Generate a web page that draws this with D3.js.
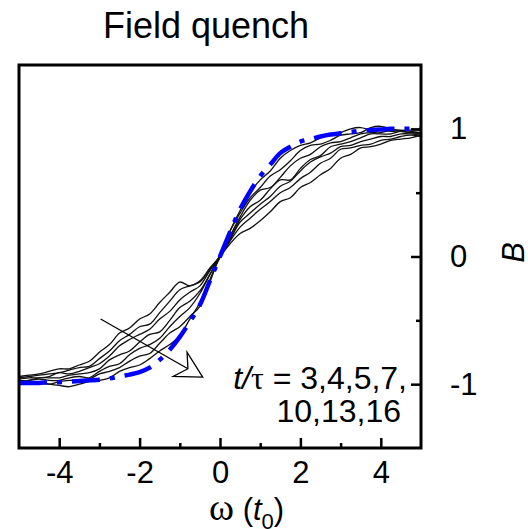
<!DOCTYPE html>
<html>
<head>
<meta charset="utf-8">
<script src="https://cdn.jsdelivr.net/npm/d3@7"></script>
<style>
  html, body { margin: 0; padding: 0; background: #fff; }
  svg { display: block; }
  text { font-family: "Liberation Sans", Arial, Helvetica, sans-serif; fill: #000; }
</style>
</head>
<body>
<svg id="chart" width="528" height="529"></svg>
<script>
// Frequency grid (units of t0)
const omega = [-5, -4.75, -4.5, -4.25, -4, -3.75, -3.5, -3.25, -3, -2.75, -2.5, -2.25, -2, -1.75, -1.5, -1.25, -1, -0.75, -0.5, -0.25,
  0, 0.25, 0.5, 0.75, 1, 1.25, 1.5, 1.75, 2, 2.25, 2.5, 2.75, 3, 3.25, 3.5, 3.75, 4, 4.25, 4.5, 4.75, 5];

// Measured B(ω) after the field quench, one trace per t/τ
const tauLabels = ["16", "13", "10", "7", "5", "4", "3"];
const bT16 = [-1.0, -1.0, -0.99, -1.0, -1.01, -1.02, -1.0, -0.98, -0.97, -0.95, -0.9, -0.87, -0.85, -0.8, -0.74, -0.69, -0.62, -0.49, -0.36, -0.18,
  0.0, 0.2, 0.36, 0.5, 0.6, 0.67, 0.77, 0.83, 0.87, 0.89, 0.93, 0.95, 0.97, 1.0, 1.01, 0.99, 0.99, 0.98, 0.985, 0.99, 0.99];
const bT13 = [-0.99, -0.98, -0.99, -1.0, -0.98, -0.97, -0.97, -0.96, -0.92, -0.9, -0.87, -0.82, -0.78, -0.76, -0.68, -0.6, -0.55, -0.47, -0.39, -0.2,
  0.02, 0.2, 0.34, 0.46, 0.54, 0.63, 0.68, 0.75, 0.83, 0.87, 0.88, 0.91, 0.95, 0.96, 0.97, 1.01, 1.02, 1.0, 0.98, 0.97, 0.97];
const bT10 = [-0.98, -0.97, -0.96, -0.97, -0.97, -0.95, -0.94, -0.95, -0.9, -0.86, -0.84, -0.77, -0.72, -0.69, -0.64, -0.55, -0.47, -0.4, -0.29, -0.14,
  0.01, 0.16, 0.31, 0.44, 0.52, 0.54, 0.62, 0.71, 0.77, 0.8, 0.86, 0.89, 0.9, 0.93, 0.96, 0.97, 0.97, 0.99, 0.99, 0.98, 0.97];
const bT7 = [-0.97, -0.97, -0.95, -0.95, -0.95, -0.93, -0.92, -0.91, -0.88, -0.81, -0.77, -0.74, -0.67, -0.61, -0.59, -0.5, -0.4, -0.35, -0.27, -0.14,
  -0.01, 0.14, 0.29, 0.39, 0.44, 0.53, 0.6, 0.6, 0.69, 0.76, 0.79, 0.86, 0.88, 0.9, 0.93, 0.96, 0.96, 0.96, 0.98, 0.97, 0.96];
const bT5 = [-0.96, -0.95, -0.95, -0.94, -0.91, -0.92, -0.9, -0.87, -0.84, -0.78, -0.7, -0.65, -0.61, -0.57, -0.49, -0.43, -0.34, -0.28, -0.23, -0.11,
  0.0, 0.13, 0.27, 0.34, 0.41, 0.47, 0.55, 0.59, 0.67, 0.74, 0.78, 0.81, 0.86, 0.87, 0.9, 0.92, 0.94, 0.94, 0.96, 0.96, 0.95];
const bT4 = [-0.95, -0.94, -0.93, -0.92, -0.91, -0.89, -0.87, -0.86, -0.8, -0.74, -0.66, -0.61, -0.55, -0.53, -0.44, -0.35, -0.26, -0.23, -0.2, -0.1,
  0.0, 0.12, 0.23, 0.3, 0.37, 0.43, 0.5, 0.54, 0.61, 0.66, 0.73, 0.77, 0.84, 0.85, 0.87, 0.88, 0.91, 0.92, 0.94, 0.95, 0.94];
const bT3 = [-0.94, -0.93, -0.92, -0.9, -0.88, -0.88, -0.85, -0.82, -0.75, -0.69, -0.6, -0.56, -0.49, -0.45, -0.36, -0.28, -0.2, -0.23, -0.19, -0.09,
  0.0, 0.1, 0.18, 0.22, 0.28, 0.35, 0.43, 0.46, 0.54, 0.58, 0.64, 0.69, 0.77, 0.8, 0.85, 0.86, 0.88, 0.91, 0.92, 0.93, 0.95];
const traces = [bT16, bT13, bT10, bT7, bT5, bT4, bT3];

// Adiabatic reference profile (blue dash-dot)
const bRef = [-0.99, -0.99, -0.99, -0.985, -0.985, -0.98, -0.975, -0.97, -0.965, -0.955, -0.94, -0.925, -0.905, -0.87, -0.81, -0.73, -0.63, -0.51, -0.38, -0.19,
  0.0, 0.19, 0.37, 0.51, 0.63, 0.72, 0.81, 0.86, 0.9, 0.92, 0.94, 0.955, 0.965, 0.975, 0.985, 0.99, 0.995, 1.0, 1.0, 1.0, 1.0];

// Axis ticks
const xMajorTicks = [-4, -2, 0, 2, 4];
const xMinorTicks = [-3, -1, 1, 3];
const yMajorTicks = [-1, 0, 1];
const yMinorTicks = [-0.5, 0.5];

// Arrow annotation (data units): from the broad traces toward the steep ones
const arrowFrom = [-2.97, -0.49];
const arrowTo = [-0.43, -0.945];
const annotationLines = ["3,4,5,7,", "10,13,16"];

const svg = d3.select("#chart");
const plot = { left: 19, right: 421, top: 65, bottom: 448 };

const x = d3.scaleLinear().domain([-5, 5]).range([plot.left, plot.right]);
const y = d3.scaleLinear().domain([-1.5, 1.5]).range([plot.bottom, plot.top]);

svg.append("defs").append("clipPath").attr("id", "plotClip")
  .append("rect")
  .attr("x", plot.left).attr("y", plot.top)
  .attr("width", plot.right - plot.left).attr("height", plot.bottom - plot.top);

// Title
svg.append("text")
  .attr("x", 206).attr("y", 38)
  .attr("text-anchor", "middle")
  .style("font-size", "36px")
  .text("Field quench");

const line = d3.line()
  .x((d, i) => x(omega[i]))
  .y(d => y(d))
  .curve(d3.curveCatmullRom.alpha(0.5));

const curves = svg.append("g").attr("clip-path", "url(#plotClip)");

curves.selectAll("path.trace")
  .data(traces)
  .join("path")
  .attr("class", "trace")
  .attr("d", line)
  .attr("fill", "none")
  .attr("stroke", "#111")
  .attr("stroke-width", 1.3);

curves.append("path")
  .datum(bRef)
  .attr("d", line)
  .attr("fill", "none")
  .attr("stroke", "#0000ff")
  .attr("stroke-width", 4.5)
  .attr("stroke-dasharray", "28 10 5 10");

// Axes: ticks point into the frame
const fmt = d => String(d);
svg.append("g")
  .attr("transform", `translate(0,${plot.bottom})`)
  .call(d3.axisBottom(x).tickValues(xMajorTicks).tickFormat(fmt).tickSize(-10).tickPadding(13));
svg.append("g")
  .attr("transform", `translate(0,${plot.bottom})`)
  .call(d3.axisBottom(x).tickValues(xMinorTicks).tickFormat("").tickSize(-5));

svg.append("g")
  .attr("transform", `translate(${plot.right},0)`)
  .call(d3.axisRight(y).tickValues(yMajorTicks).tickFormat(fmt).tickSize(-10).tickPadding(29));
svg.append("g")
  .attr("transform", `translate(${plot.right},0)`)
  .call(d3.axisRight(y).tickValues(yMinorTicks).tickFormat("").tickSize(-5));

svg.selectAll(".domain").remove();
svg.selectAll(".tick line").attr("stroke", "#000").attr("stroke-width", 2.5);
svg.selectAll(".tick text")
  .style("font-size", "31px")
  .style("font-family", '"Liberation Sans", Arial, sans-serif')
  .attr("fill", "#000");

// Frame
svg.append("rect")
  .attr("x", plot.left).attr("y", plot.top)
  .attr("width", plot.right - plot.left).attr("height", plot.bottom - plot.top)
  .attr("fill", "none")
  .attr("stroke", "#000")
  .attr("stroke-width", 3);

// x-axis title: ω (t0)
const xTitle = svg.append("text")
  .attr("x", 209).attr("y", 520)
  .style("font-size", "31px");
xTitle.append("tspan")
  .style("font-family", '"Liberation Serif", "Times New Roman", serif')
  .style("font-size", "38px")
  .text("ω");
xTitle.append("tspan").text(" (");
xTitle.append("tspan").style("font-style", "italic").text("t");
xTitle.append("tspan").attr("dy", 9).style("font-size", "22px").text("0");
xTitle.append("tspan").attr("dy", -9).text(")");

// y-axis title: B
svg.append("text")
  .attr("transform", `translate(524,${y(0) - 4}) rotate(-90)`)
  .attr("text-anchor", "middle")
  .style("font-size", "31px")
  .style("font-style", "italic")
  .text("B");

// Arrow
const p0 = [x(arrowFrom[0]), y(arrowFrom[1])];
const p1 = [x(arrowTo[0]), y(arrowTo[1])];
const len = Math.hypot(p1[0] - p0[0], p1[1] - p0[1]);
const u = [(p1[0] - p0[0]) / len, (p1[1] - p0[1]) / len];
const n = [-u[1], u[0]];
const headLen = 26, headHalf = 14, notch = 17;
const notchPt = [p1[0] - notch * u[0], p1[1] - notch * u[1]];
svg.append("line")
  .attr("x1", p0[0]).attr("y1", p0[1])
  .attr("x2", notchPt[0]).attr("y2", notchPt[1])
  .attr("stroke", "#000").attr("stroke-width", 1.3);
const head = [
  p1,
  [p1[0] - headLen * u[0] + headHalf * n[0], p1[1] - headLen * u[1] + headHalf * n[1]],
  notchPt,
  [p1[0] - headLen * u[0] - headHalf * n[0], p1[1] - headLen * u[1] - headHalf * n[1]]
];
svg.append("path")
  .attr("d", "M" + head.map(p => p.join(",")).join("L") + "Z")
  .attr("fill", "#fff")
  .attr("stroke", "#000")
  .attr("stroke-width", 1.3)
  .attr("stroke-linejoin", "miter");

// Annotation: t/τ = 3,4,5,7, 10,13,16
const ann1 = svg.append("text")
  .attr("x", 407).attr("y", 389)
  .attr("text-anchor", "end")
  .style("font-size", "32px");
ann1.append("tspan").style("font-style", "italic").text("t/");
ann1.append("tspan").style("font-family", '"Liberation Serif", "Times New Roman", serif').text("τ");
ann1.append("tspan").text(" = " + annotationLines[0]);

svg.append("text")
  .attr("x", 401).attr("y", 422)
  .attr("text-anchor", "end")
  .style("font-size", "32px")
  .text(annotationLines[1]);
</script>
</body>
</html>
